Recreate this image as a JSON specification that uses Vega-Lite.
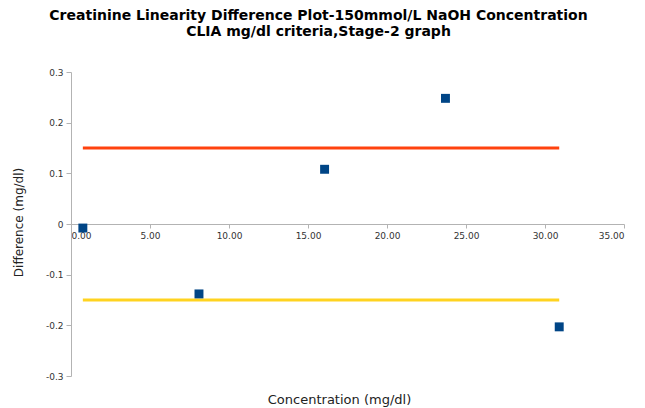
{
  "$schema": "https://vega.github.io/schema/vega-lite/v6.json",
  "width": 553,
  "height": 304,
  "autosize": {"type": "none"},
  "padding": {"left": 71, "top": 72, "right": 21, "bottom": 32},
  "background": "white",
  "title": {
    "text": ["Creatinine Linearity Difference Plot-150mmol/L NaOH Concentration", "CLIA mg/dl criteria,Stage-2 graph"],
    "font": "DejaVu Sans",
    "fontSize": 14,
    "fontWeight": "bold",
    "color": "#000000",
    "anchor": "middle",
    "dx": -29,
    "offset": 29,
    "lineHeight": 16
  },
  "config": {
    "view": {"stroke": null},
    "axis": {
      "grid": false,
      "labelFont": "DejaVu Sans",
      "labelFontSize": 9,
      "labelColor": "#333333",
      "titleFont": "DejaVu Sans",
      "titleFontSize": 12,
      "titleFontWeight": "normal",
      "titleColor": "#222222",
      "domainColor": "#b3b3b3",
      "tickColor": "#b3b3b3",
      "tickSize": 5
    }
  },
  "datasets": {
    "points": [
      {"concentration": 0.75, "difference": -0.008},
      {"concentration": 8.1, "difference": -0.138},
      {"concentration": 16.05, "difference": 0.108},
      {"concentration": 23.7, "difference": 0.248},
      {"concentration": 30.9, "difference": -0.203}
    ],
    "limits": [
      {"limit": 0.15, "start": 0.75, "end": 30.9, "series": "upper"},
      {"limit": -0.15, "start": 0.75, "end": 30.9, "series": "lower"}
    ]
  },
  "layer": [
    {
      "data": {"name": "limits"},
      "mark": {"type": "rule", "strokeWidth": 3},
      "encoding": {
        "x": {"field": "start", "type": "quantitative"},
        "x2": {"field": "end"},
        "y": {"field": "limit", "type": "quantitative"},
        "color": {
          "field": "series",
          "type": "nominal",
          "scale": {"domain": ["upper", "lower"], "range": ["#ff420e", "#ffd320"]},
          "legend": null
        }
      }
    },
    {
      "data": {"name": "points"},
      "mark": {"type": "square", "size": 80, "color": "#004586", "opacity": 1, "filled": true},
      "encoding": {
        "x": {
          "field": "concentration",
          "type": "quantitative",
          "scale": {"domain": [0, 35], "nice": false, "zero": false},
          "axis": {
            "title": "Concentration (mg/dl)",
            "values": [0, 5, 10, 15, 20, 25, 30, 35],
            "format": ".2f",
            "offset": -152,
            "titleX": 268,
            "titleY": 175,
            "titleFontSize": 13,
            "titleBaseline": "middle",
            "tickSize": 4,
            "labelPadding": 3
          }
        },
        "y": {
          "field": "difference",
          "type": "quantitative",
          "scale": {"domain": [-0.3, 0.3], "nice": false},
          "axis": {
            "title": "Difference (mg/dl)",
            "values": [-0.3, -0.2, -0.1, 0, 0.1, 0.2, 0.3],
            "labelExpr": "toString(round(datum.value*10)/10)",
            "titleX": -53,
            "titleY": 150,
            "titleAngle": -90,
            "titleAlign": "center",
            "titleBaseline": "middle",
            "labelPadding": 3
          }
        }
      }
    }
  ]
}
